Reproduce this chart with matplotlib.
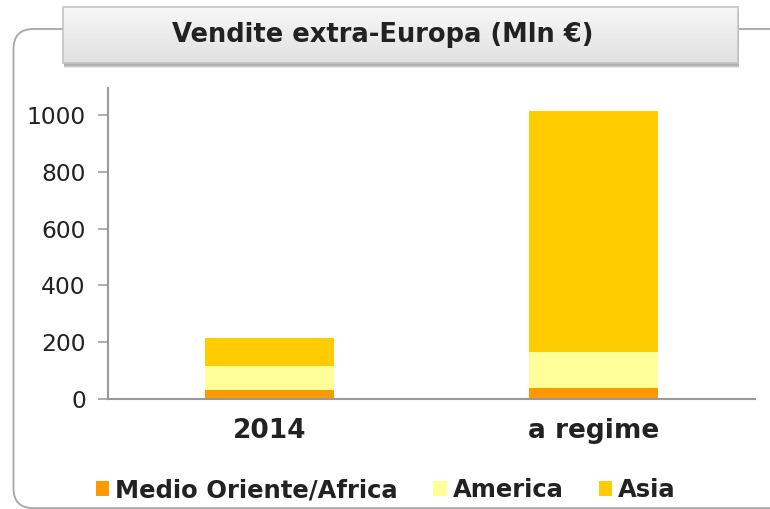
import matplotlib.pyplot as plt
from matplotlib.patches import FancyBboxPatch, Rectangle
import numpy as np

categories = ['2014', 'a regime']
series_names = ['Medio Oriente/Africa', 'America', 'Asia']
medio = [32, 39]
america = [84, 126]
asia = [99, 849]
colors = ['#FF9900', '#FFFF99', '#FFCC00']
title = 'Vendite extra-Europa (Mln €)'
text_col = '#222222'

W, H = 770, 509
fig = plt.figure(figsize=(W / 100, H / 100), dpi=100)

# outer rounded frame, in inches (right side runs off the figure)
frame = FancyBboxPatch((0.135, 0.008), 7.8, 4.8 - 0.008,
                       boxstyle='round,pad=0,rounding_size=0.2',
                       transform=fig.dpi_scale_trans, fill=False,
                       edgecolor='#a6a6a6', linewidth=1.3, zorder=1)
fig.add_artist(frame)

ax = fig.add_axes([108 / W, 1 - 399 / H, (755 - 108) / W, (399 - 88) / H])
x = np.arange(len(categories))
bottom = np.zeros(len(categories))
for vals, name, c in zip([medio, america, asia], series_names, colors):
    ax.bar(x, vals, 0.4, bottom=bottom, color=c, label=name, zorder=2)
    bottom += np.array(vals)

ax.set_xlim(-0.5, 1.5)
ax.set_ylim(0, 1095)
ax.set_yticks([0, 200, 400, 600, 800, 1000])
ax.set_xticks(x)
ax.set_xticklabels(categories, fontsize=19, fontweight='bold', color=text_col)
ax.tick_params(axis='y', labelsize=16.8, length=7, width=1.2, color='#a0a0a0',
               pad=9, labelcolor=text_col)
ax.tick_params(axis='x', length=0, pad=14)
for s in ['top', 'right']:
    ax.spines[s].set_visible(False)
for s in ['left', 'bottom']:
    ax.spines[s].set_color('#9a9a9a')
    ax.spines[s].set_linewidth(1.5)

# title box with shadow and soft gradient
bx, by, bw, bh = 63 / W, 1 - 63 / H, (738 - 63) / W, (63 - 7) / H
for k, a in [(5, 0.25), (4, 0.35), (3, 0.5)]:
    fig.add_artist(Rectangle((bx + 1 / W, by - k / H), bw, bh, transform=fig.transFigure,
                             facecolor='#999999', edgecolor='none', alpha=a, zorder=5))
n = 30
for i in range(n):
    g = 0.97 - 0.09 * (i / (n - 1))
    fig.add_artist(Rectangle((bx, by + bh * (1 - (i + 1) / n)), bw, bh / n + 0.001,
                             transform=fig.transFigure, facecolor=(g, g, g),
                             edgecolor='none', zorder=6))
fig.add_artist(Rectangle((bx, by), bw, bh, transform=fig.transFigure,
                         fill=False, edgecolor='#c4c4c4', linewidth=1.2, zorder=7))
fig.text(0.5 - 2 / W, by + bh / 2, title, ha='center', va='center',
         fontsize=18.5, fontweight='bold', color=text_col, zorder=8)

# legend
handles, labels = ax.get_legend_handles_labels()
fig.legend(handles, labels, loc='center', bbox_to_anchor=(386 / W, 1 - 490 / H),
           ncol=3, frameon=False,
           prop={'size': 17.5, 'weight': 'bold'}, labelcolor=text_col,
           handlelength=0.55, handleheight=0.55, handletextpad=0.25,
           columnspacing=1.45)

fig.savefig('out.png', dpi=100)
